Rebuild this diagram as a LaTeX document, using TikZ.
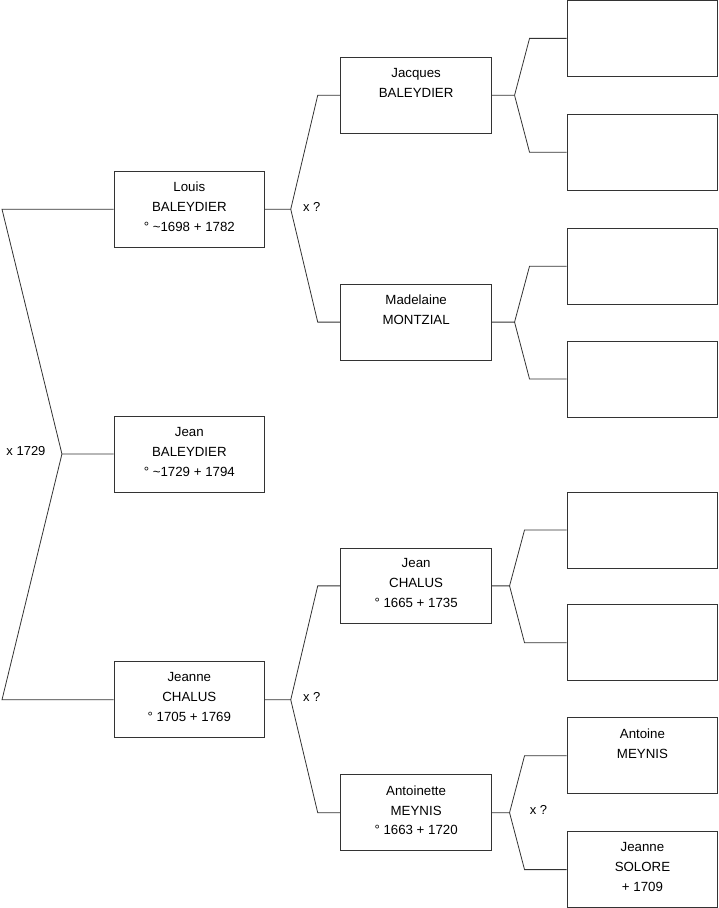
\documentclass[tikz,border=0pt]{standalone}
\usepackage{fontspec}
\setmainfont{Liberation Sans}
\usepackage{tikz}

\tikzset{
  person/.style={draw=black!80, line width=0.8pt, minimum width=151pt, minimum height=76pt,
    inner sep=0pt, align=center, font=\fontsize{13.3}{20}\selectfont,
    execute at end node={\rule[-5pt]{0pt}{5pt}}},
  link/.style={draw=black!80, line width=0.8pt},
  union/.style={font=\fontsize{13}{15}\selectfont, inner sep=0pt}
}

\begin{document}
\begin{tikzpicture}[x=1pt,y=-1pt]
	% cadre
	\useasboundingbox (0,-0.4) rectangle (719.4,908.4);
	
	% generation 1 et 2
	\node[person] (jean) at (189.5,454) {Jean\\BALEYDIER\\° \textasciitilde1729 + 1794};
	\node[person] (louis) at (189.5,209) {Louis\\BALEYDIER\\° \textasciitilde1698 + 1782};
	\node[person] (jeanne) at (189.5,700) {Jeanne\\CHALUS\\° 1705 + 1769};
	
	% generation 3
	\node[person] (jacques) at (416.5,95) {Jacques\\BALEYDIER\\~};
	\node[person] (madelaine) at (416.5,322) {Madelaine\\MONTZIAL\\~};
	\node[person] (jeanchalus) at (416.5,586) {Jean\\CHALUS\\° 1665 + 1735};
	\node[person] (antoinette) at (416.5,813) {Antoinette\\MEYNIS\\° 1663 + 1720};
	
	% generation 4
	\node[person] (p1) at (643,38) {};
	\node[person] (p2) at (643,152) {};
	\node[person] (p3) at (643,266) {};
	\node[person] (p4) at (643,379) {};
	\node[person] (p5) at (643,530) {};
	\node[person] (p6) at (643,643) {};
	\node[person] (antoine) at (643,756) {Antoine\\MEYNIS\\~};
	\node[person] (solore) at (643,870) {Jeanne\\SOLORE\\+ 1709};
	
	% points de fourche
	\coordinate (f0) at (62,454);
	\coordinate (f0a) at (2,209);
	\coordinate (f0b) at (2,700);
	\coordinate (f1) at (291,209);
	\coordinate (f1a) at (318,95);
	\coordinate (f1b) at (318,322);
	\coordinate (f2) at (291,700);
	\coordinate (f2a) at (318,586);
	\coordinate (f2b) at (318,813);
	\coordinate (f3) at (515,95);
	\coordinate (f3a) at (530,38);
	\coordinate (f3b) at (530,152);
	\coordinate (f4) at (515,322);
	\coordinate (f4a) at (530,266);
	\coordinate (f4b) at (530,379);
	\coordinate (f5) at (510,586);
	\coordinate (f5a) at (525,530);
	\coordinate (f5b) at (525,643);
	\coordinate (f6) at (510,813);
	\coordinate (f6a) at (525,756);
	\coordinate (f6b) at (525,870);
	
	% liens
	\draw[link] (jean.west) -- (f0) -- (f0a) -- (louis.west);
	\draw[link] (f0) -- (f0b) -- (jeanne.west);
	\draw[link] (louis.east) -- (f1) -- (f1a) -- (jacques.west);
	\draw[link] (f1) -- (f1b) -- (madelaine.west);
	\draw[link] (jeanne.east) -- (f2) -- (f2a) -- (jeanchalus.west);
	\draw[link] (f2) -- (f2b) -- (antoinette.west);
	\draw[link] (jacques.east) -- (f3) -- (f3a) -- (p1.west);
	\draw[link] (f3) -- (f3b) -- (p2.west);
	\draw[link] (madelaine.east) -- (f4) -- (f4a) -- (p3.west);
	\draw[link] (f4) -- (f4b) -- (p4.west);
	\draw[link] (jeanchalus.east) -- (f5) -- (f5a) -- (p5.west);
	\draw[link] (f5) -- (f5b) -- (p6.west);
	\draw[link] (antoinette.east) -- (f6) -- (f6a) -- (antoine.west);
	\draw[link] (f6) -- (f6b) -- (solore.west);
	
	% mariages
	\node[union] (m0) at (26,451) {x 1729};
	\node[union] (m1) at (312,207) {x ?};
	\node[union] (m2) at (312,697) {x ?};
	\node[union] (m3) at (539,810) {x ?};
	
\end{tikzpicture}
\end{document}
